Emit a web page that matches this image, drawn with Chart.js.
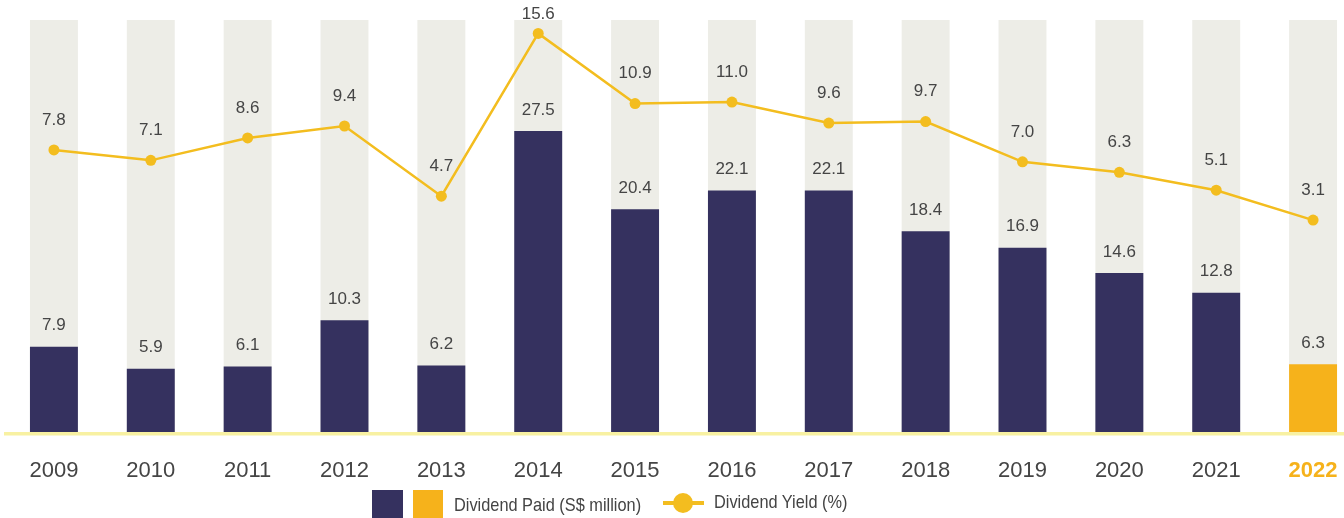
<!DOCTYPE html>
<html>
<head>
<meta charset="utf-8">
<script src="https://cdn.jsdelivr.net/npm/chart.js@4"></script>
<style>
  html, body { margin: 0; padding: 0; background: #fff; }
  #wrap { position: relative; width: 1344px; height: 518px; overflow: hidden; }
  #plot { position: absolute; left: 0; top: 0; }
  .legend { position: absolute; font-family: "Liberation Sans", Arial, sans-serif; font-size: 19px; color: #444;
            transform: scaleX(0.86); transform-origin: left center; white-space: nowrap; }
  .sw { position: absolute; }
</style>
</head>
<body>
<div id="wrap">
  <canvas id="plot" width="1380" height="518"></canvas>
  <div class="sw" style="left:372px; top:490px; width:31px; height:30px; background:#35315f;"></div>
  <div class="sw" style="left:413px; top:490px; width:30px; height:30px; background:#f6b21b;"></div>
  <div class="legend" style="left:454px; top:494px;">Dividend Paid (S$ million)</div>
  <div class="sw" style="left:663px; top:501px; width:41px; height:4px; background:#f3bd1f;"></div>
  <div class="sw" style="left:673px; top:493px; width:20px; height:20px; border-radius:50%; background:#f3bd1f;"></div>
  <div class="legend" style="left:714px; top:491px;">Dividend Yield (%)</div>
</div>
<script>
// Data
const years = ['2009', '2010', '2011', '2012', '2013', '2014', '2015', '2016', '2017', '2018', '2019', '2020', '2021', '2022'];
const dividendPaid = [7.9, 5.9, 6.1, 10.3, 6.2, 27.5, 20.4, 22.1, 22.1, 18.4, 16.9, 14.6, 12.8, 6.3];
const dividendYield = [7.8, 7.1, 8.6, 9.4, 4.7, 15.6, 10.9, 11.0, 9.6, 9.7, 7.0, 6.3, 5.1, 3.1];

// Colours
const navy = '#35315f';
const orange = '#f6b21b';
const lineYellow = '#f3bd1f';
const track = '#ededE7';
const labelGrey = '#454545';

const paidMax = 37.6;
const highlightYear = '2022';

const barColors = years.map(y => y === highlightYear ? orange : navy);
const trackValues = years.map(() => paidMax);

// draws value labels above bars and points
const valueLabels = {
    id: 'valueLabels',
    afterDatasetsDraw(chart) {
        const c = chart.ctx;
        c.save();
        c.font = '17px "Liberation Sans", Arial, sans-serif';
        c.fillStyle = labelGrey;
        c.textAlign = 'center';
        c.textBaseline = 'middle';
        const barMeta = chart.getDatasetMeta(1);
        barMeta.data.forEach((el, i) => {
            c.fillText(dividendPaid[i].toFixed(1), el.x, el.y - 21);
        });
        const lineMeta = chart.getDatasetMeta(2);
        lineMeta.data.forEach((el, i) => {
            // keep the top label inside the picture
            c.fillText(dividendYield[i].toFixed(1), el.x, Math.max(el.y - 30, 14));
        });
        c.restore();
    }
};

new Chart(document.getElementById('plot').getContext('2d'), {
    type: 'bar',
    data: {
        labels: years,
        datasets: [
            {
                label: 'track',
                data: trackValues,
                backgroundColor: track,
                grouped: false,
                order: 3,
                yAxisID: 'y'
            },
            {
                label: 'Dividend Paid (S$ million)',
                data: dividendPaid,
                backgroundColor: barColors,
                grouped: false,
                order: 2,
                yAxisID: 'y'
            },
            {
                type: 'line',
                label: 'Dividend Yield (%)',
                data: dividendYield,
                borderColor: lineYellow,
                backgroundColor: lineYellow,
                borderWidth: 2.5,
                pointRadius: 5.5,
                pointHoverRadius: 5.5,
                pointBorderWidth: 0,
                tension: 0,
                order: 1,
                yAxisID: 'y2'
            }
        ]
    },
    options: {
        responsive: false,
        animation: false,
        layout: {
            padding: { left: 4.5, right: 18.5, top: 20, bottom: 10 }
        },
        datasets: {
            bar: {
                categoryPercentage: 1,
                barPercentage: 0.495
            }
        },
        scales: {
            x: {
                grid: { display: false, drawTicks: false },
                border: { display: true, color: '#f8f1a2', width: 3.5, z: 1 },
                ticks: {
                    padding: 24,
                    color: ctx => years[ctx.index] === highlightYear ? orange : labelGrey,
                    font: ctx => ({
                        family: '"Liberation Sans", Arial, sans-serif',
                        size: 22,
                        weight: years[ctx.index] === highlightYear ? 'bold' : 'normal'
                    })
                }
            },
            y: {
                display: false,
                min: 0,
                max: paidMax
            },
            y2: {
                display: false,
                min: -11.2,
                max: 16.5
            }
        },
        plugins: {
            legend: { display: false },
            tooltip: { enabled: false }
        }
    },
    plugins: [valueLabels]
});
</script>
</body>
</html>
